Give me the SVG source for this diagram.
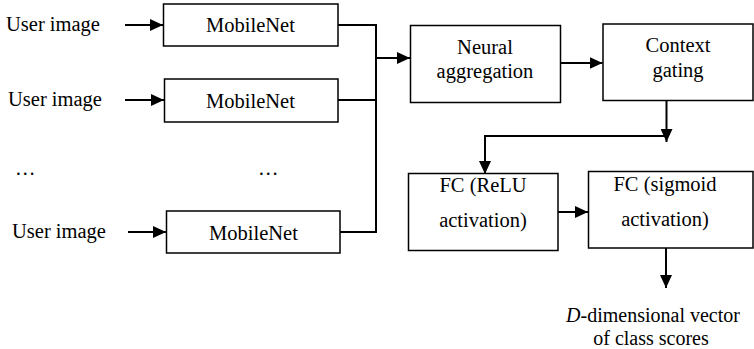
<svg xmlns="http://www.w3.org/2000/svg" width="754" height="349" viewBox="0 0 754 349">
<defs>
<marker id="ah" viewBox="0 0 13 12" refX="13" refY="6" markerWidth="13" markerHeight="12" markerUnits="userSpaceOnUse" orient="auto">
<path d="M0,0 L13,6 L0,12 z" fill="#000"/>
</marker>
</defs>
<style>
.c{text-anchor:middle}
.box{fill:#fff;stroke:#000;stroke-width:1.5}
.ln{fill:none;stroke:#000;stroke-width:2}
</style>
<rect width="754" height="349" fill="#fff"/>
<g font-family="Liberation Serif, 'Times New Roman', serif" font-size="20.5px" fill="#000">
<g id="labels">
<text x="6" y="31">User image</text>
<text x="8" y="106">User image</text>
<text x="12" y="238">User image</text>
<text x="15" y="174.5">…</text>
<text x="258" y="174.5">…</text>
</g>
<g id="mobilenet1"><rect class="box" x="163.5" y="4" width="174.5" height="42"/><text class="c" x="250.5" y="32">MobileNet</text></g>
<g id="mobilenet2"><rect class="box" x="164.5" y="79" width="173.5" height="43"/><text class="c" x="250.5" y="108">MobileNet</text></g>
<g id="mobilenet3"><rect class="box" x="166.5" y="211" width="173.5" height="42"/><text class="c" x="253.5" y="240">MobileNet</text></g>
<g id="neural"><rect class="box" x="410.5" y="25.5" width="150" height="77"/><text class="c" x="485" y="54">Neural</text><text class="c" x="485" y="78">aggregation</text></g>
<g id="context"><rect class="box" x="603" y="24" width="150" height="76.5"/><text class="c" x="678" y="52">Context</text><text class="c" x="678" y="77">gating</text></g>
<g id="fcrelu"><rect class="box" x="408.5" y="173.5" width="149.5" height="77"/><text class="c" x="483" y="192">FC (ReLU</text><text class="c" x="483" y="227">activation)</text></g>
<g id="fcsig"><rect class="box" x="588.5" y="171.5" width="164.5" height="76.5"/><text class="c" x="665" y="191">FC (sigmoid</text><text class="c" x="665" y="226">activation)</text></g>
<g id="output" font-size="20px"><text class="c" x="653" y="322"><tspan font-style="italic">D</tspan>-dimensional vector</text><text class="c" x="651" y="345">of class scores</text></g>
</g>
<g id="connectors">
<line class="ln" x1="125" y1="25" x2="163" y2="25" marker-end="url(#ah)"/>
<line class="ln" x1="125" y1="100" x2="164" y2="100" marker-end="url(#ah)"/>
<line class="ln" x1="128" y1="232" x2="166" y2="232" marker-end="url(#ah)"/>
<polyline class="ln" points="338,25 376,25 376,232 340,232"/>
<line class="ln" x1="338" y1="100" x2="376" y2="100"/>
<line class="ln" x1="376" y1="58" x2="410" y2="58" marker-end="url(#ah)"/>
<line class="ln" x1="561" y1="63" x2="602.5" y2="63" marker-end="url(#ah)"/>
<line class="ln" x1="666.5" y1="101" x2="666.5" y2="142" marker-end="url(#ah)"/>
<polyline class="ln" points="666.5,136 485,136 485,174" marker-end="url(#ah)"/>
<line class="ln" x1="558" y1="212" x2="588" y2="212" marker-end="url(#ah)"/>
<line class="ln" x1="666" y1="248" x2="666" y2="288" marker-end="url(#ah)"/>
</g>
</svg>
